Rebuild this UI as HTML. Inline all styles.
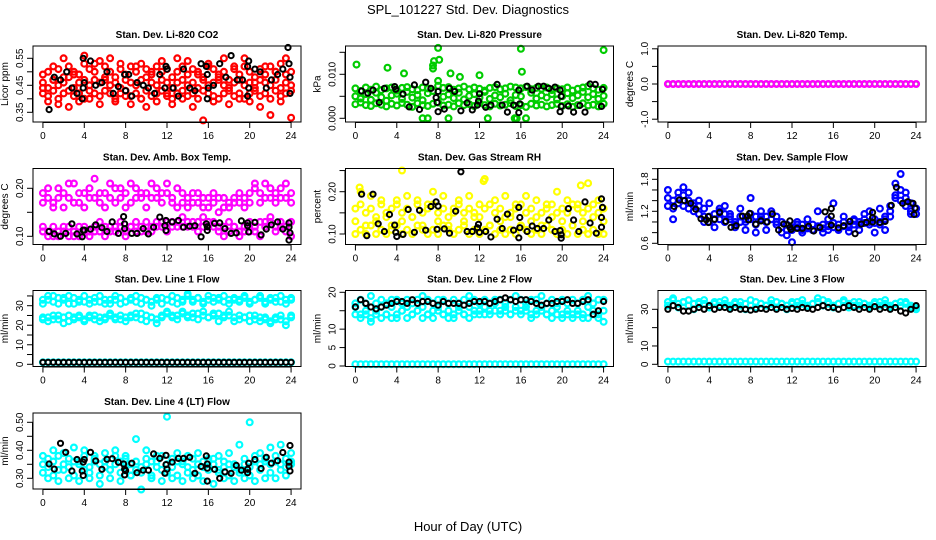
<!DOCTYPE html>
<html><head><meta charset="utf-8"><style>
html,body{margin:0;padding:0;background:#fff}
svg{display:block;font-family:"Liberation Sans",sans-serif}
</style></head><body>
<svg id="c" width="936" height="540" viewBox="0 0 936 540" xmlns="http://www.w3.org/2000/svg">
<text x="468" y="14" text-anchor="middle" font-size="13">SPL_101227  Std. Dev. Diagnostics</text>
<text x="468" y="531" text-anchor="middle" font-size="13">Hour of Day (UTC)</text>
</svg>
<script>
// half-hour grid of hours for the coloured clouds
const hoursGrid = []; for (let i = 0; i <= 48; i++) hoursGrid.push(i * 0.5);

const co2Red1 = [0.49,0.50,0.47,0.51,0.48,0.52,0.50,0.49,0.53,0.51,0.50,0.54,0.52,0.50,0.48,0.51,0.49,0.52,0.50,0.53,0.51,0.49,0.52,0.50,0.51,0.48,0.50,0.52,0.49,0.51,0.50,0.48,0.52,0.51,0.49,0.50,0.47,0.51,0.49,0.52,0.50,0.48,0.51,0.49,0.52,0.50,0.53,0.49,0.50];
const co2Red2 = [0.46,0.44,0.47,0.45,0.46,0.48,0.44,0.46,0.47,0.45,0.47,0.46,0.48,0.45,0.46,0.44,0.47,0.46,0.45,0.47,0.48,0.46,0.45,0.47,0.46,0.44,0.46,0.47,0.45,0.46,0.44,0.47,0.45,0.46,0.48,0.45,0.44,0.46,0.47,0.45,0.46,0.44,0.47,0.46,0.45,0.47,0.44,0.46,0.45];
const co2Red3 = [0.42,0.41,0.43,0.40,0.42,0.43,0.41,0.42,0.40,0.43,0.42,0.41,0.43,0.42,0.40,0.42,0.43,0.41,0.42,0.40,0.43,0.41,0.42,0.43,0.41,0.40,0.42,0.43,0.41,0.42,0.40,0.43,0.42,0.41,0.40,0.42,0.43,0.41,0.42,0.40,0.42,0.43,0.41,0.42,0.40,0.43,0.41,0.42,0.43];
const co2Red4 = [0.44,0.39,0.52,0.38,0.55,0.37,0.49,0.39,0.56,0.40,0.53,0.38,0.47,0.55,0.39,0.53,0.41,0.38,0.52,0.40,0.37,0.50,0.39,0.54,0.42,0.38,0.55,0.40,0.54,0.37,0.49,0.32,0.53,0.39,0.47,0.55,0.38,0.52,0.40,0.55,0.39,0.46,0.37,0.52,0.34,0.50,0.39,0.55,0.33];
const co2BlackHours = [0.6,1.1,1.7,2.3,2.8,3.3,3.8,3.9,3.9,4.0,4.6,5.1,5.7,6.2,6.8,7.3,7.9,8.0,8.3,8.6,9.1,9.7,10.2,10.8,11.3,11.8,11.9,12.0,12.6,13.1,13.6,14.2,14.7,15.3,15.8,15.9,15.9,16.0,16.5,17.1,17.7,18.2,18.8,19.3,19.8,19.8,19.9,19.9,20.5,21.0,21.6,22.1,22.7,23.2,23.7,23.8,23.9,23.9];
const co2BlackVals = [0.36,0.48,0.47,0.50,0.44,0.42,0.40,0.44,0.55,0.46,0.54,0.45,0.46,0.50,0.42,0.445,0.49,0.43,0.49,0.41,0.46,0.45,0.44,0.42,0.49,0.44,0.52,0.51,0.44,0.41,0.51,0.44,0.43,0.53,0.52,0.49,0.40,0.44,0.45,0.53,0.48,0.56,0.47,0.47,0.41,0.52,0.54,0.44,0.51,0.50,0.44,0.47,0.49,0.51,0.59,0.53,0.48,0.42];

const presGreen1 = [0.0068,0.0062,0.0070,0.0065,0.0072,0.0064,0.0068,0.0070,0.0063,0.0069,0.0071,0.0066,0.0064,0.0070,0.0068,0.0062,0.0074,0.0069,0.0071,0.0065,0.0068,0.0072,0.0066,0.0070,0.0067,0.0063,0.0069,0.0071,0.0066,0.0068,0.0072,0.0070,0.0068,0.0071,0.0066,0.0069,0.0067,0.0070,0.0064,0.0068,0.0066,0.0070,0.0063,0.0067,0.0070,0.0073,0.0068,0.0065,0.0069];
const presGreen2 = [0.0032,0.0036,0.0030,0.0028,0.0034,0.0031,0.0027,0.0033,0.0029,0.0035,0.0031,0.0026,0.0034,0.0030,0.0028,0.0033,0.0036,0.0029,0.0031,0.0027,0.0034,0.0030,0.0032,0.0028,0.0035,0.0030,0.0027,0.0033,0.0029,0.0031,0.0034,0.0028,0.0030,0.0026,0.0033,0.0029,0.0031,0.0027,0.0030,0.0033,0.0028,0.0032,0.0026,0.0030,0.0034,0.0029,0.0031,0.0027,0.0033];
const presGreen3 = [0.0050,0.0045,0.0055,0.0042,0.0058,0.0048,0.0040,0.0052,0.0056,0.0044,0.0060,0.0047,0.0053,0.0041,0.0057,0.0120,0.0085,0.0049,0.0054,0.0046,0.0058,0.0043,0.0051,0.0055,0.0047,0.0060,0.0044,0.0052,0.0048,0.0056,0.0041,0.0053,0.0050,0.0000,0.0058,0.0045,0.0052,0.0047,0.0055,0.0043,0.0050,0.0057,0.0046,0.0052,0.0060,0.0048,0.0055,0.0044,0.0051];
const presOutHours = [0.1,3.1,4.7,7.5,7.6,8.0,8.1,9.2,6.5,7.0,9.0,12.8,15.4,15.6,16.0,16.1,24.0,12.0,10.1];
const presOutVals = [0.0122,0.0115,0.0102,0.0113,0.0130,0.0160,0.0133,0.0102,0,0,0,0,0,0,0.0158,0.0106,0.0155,0.0098,0.0094];
const presBlackHours = [0.6,1.2,1.7,2.3,2.8,3.8,3.9,4.6,5.2,5.7,6.2,6.8,7.3,7.8,7.9,8.0,8.0,8.6,9.1,9.6,10.2,10.8,11.3,11.8,11.9,12.0,12.6,13.1,13.7,14.2,14.7,15.3,15.8,15.9,15.8,16.6,17.1,17.7,18.2,18.7,19.3,19.8,19.8,19.9,19.9,20.6,21.1,21.7,22.2,22.7,23.2,23.8,23.9];
const presBlackVals = [0.0062,0.0057,0.0064,0.0036,0.0068,0.0072,0.0066,0.0055,0.0026,0.0076,0.0020,0.0082,0.0068,0.0047,0.0036,0.0061,0.0015,0.0021,0.0068,0.0061,0.0017,0.0035,0.0019,0.0030,0.0039,0.0056,0.0025,0.0030,0.0077,0.0030,0.0014,0.0030,0.0064,0.0033,0.0013,0.0073,0.0064,0.0073,0.0073,0.0068,0.0071,0.0064,0.0015,0.0050,0.0027,0.0028,0.0014,0.0029,0.0014,0.0078,0.0077,0.0027,0.0066];

const tempMagenta = [0,0,0,0,0,0,0,0,0,0,0,0,0,0,0,0,0,0,0,0,0,0,0,0,0,0,0,0,0,0,0,0,0,0,0,0,0,0,0,0,0,0,0,0,0,0,0,0,0];
const tempBlack = [0,0,0,0,0,0,0,0,0,0,0,0,0,0,0,0,0,0,0,0,0,0,0,0,0,0,0,0,0,0,0,0,0,0,0,0,0,0,0,0,0,0,0,0,0,0,0,0,0];

const ambMag1 = [0.19,0.18,0.17,0.20,0.19,0.18,0.21,0.17,0.19,0.20,0.18,0.17,0.19,0.21,0.20,0.18,0.19,0.17,0.20,0.18,0.19,0.21,0.18,0.17,0.19,0.18,0.20,0.17,0.18,0.19,0.17,0.18,0.16,0.17,0.18,0.16,0.17,0.18,0.17,0.16,0.19,0.20,0.19,0.21,0.18,0.19,0.20,0.18,0.19];
const ambMag2 = [0.17,0.20,0.16,0.18,0.16,0.21,0.17,0.19,0.16,0.18,0.22,0.19,0.16,0.18,0.17,0.20,0.16,0.21,0.18,0.19,0.16,0.18,0.20,0.19,0.21,0.17,0.16,0.19,0.16,0.17,0.19,0.16,0.18,0.19,0.15,0.18,0.16,0.17,0.19,0.18,0.17,0.21,0.17,0.18,0.20,0.17,0.18,0.21,0.17];
const ambMag3 = [0.11,0.11,0.10,0.11,0.12,0.10,0.11,0.10,0.12,0.11,0.12,0.11,0.12,0.11,0.12,0.12,0.11,0.12,0.11,0.12,0.11,0.12,0.13,0.12,0.13,0.12,0.13,0.12,0.13,0.12,0.13,0.12,0.13,0.12,0.11,0.12,0.11,0.12,0.11,0.12,0.11,0.12,0.13,0.12,0.13,0.12,0.13,0.12,0.13];
const ambMag4 = [0.12,0.10,0.12,0.10,0.11,0.12,0.10,0.12,0.11,0.10,0.11,0.13,0.10,0.12,0.11,0.13,0.10,0.12,0.13,0.11,0.13,0.11,0.12,0.13,0.11,0.13,0.12,0.14,0.12,0.13,0.11,0.14,0.12,0.13,0.12,0.10,0.13,0.12,0.10,0.11,0.13,0.11,0.10,0.13,0.14,0.11,0.12,0.11,0.10];
const ambBlackHours = [0.6,1.1,1.7,2.2,2.8,3.3,3.8,3.9,4.0,4.6,5.1,5.7,6.2,6.7,7.3,7.8,7.9,7.9,8.6,9.1,9.7,10.2,10.7,11.3,11.8,11.9,11.9,12.5,13.1,13.6,14.2,14.7,15.3,15.8,15.9,15.9,16.6,17.1,17.6,18.2,18.7,19.2,19.8,19.8,19.9,20.5,21.1,21.6,22.1,22.7,23.2,23.8,23.8,23.9,23.8];
const ambBlackVals = [0.110,0.105,0.100,0.106,0.126,0.105,0.099,0.113,0.113,0.115,0.124,0.118,0.110,0.130,0.106,0.141,0.126,0.116,0.106,0.106,0.116,0.105,0.119,0.140,0.122,0.133,0.112,0.130,0.133,0.119,0.121,0.122,0.099,0.126,0.112,0.120,0.127,0.128,0.116,0.106,0.107,0.132,0.128,0.122,0.109,0.129,0.103,0.115,0.124,0.130,0.115,0.128,0.119,0.107,0.092];

const rhYel1 = [0.10,0.11,0.10,0.12,0.10,0.11,0.10,0.11,0.12,0.10,0.11,0.10,0.12,0.11,0.10,0.11,0.10,0.12,0.11,0.10,0.11,0.12,0.10,0.11,0.10,0.11,0.12,0.10,0.11,0.10,0.11,0.10,0.12,0.11,0.10,0.11,0.10,0.12,0.11,0.10,0.11,0.10,0.12,0.10,0.11,0.10,0.11,0.10,0.10];
const rhYel2 = [0.16,0.17,0.15,0.16,0.14,0.17,0.15,0.16,0.17,0.15,0.16,0.14,0.17,0.15,0.16,0.17,0.15,0.16,0.14,0.16,0.17,0.15,0.16,0.15,0.14,0.16,0.17,0.15,0.16,0.14,0.15,0.16,0.17,0.15,0.16,0.14,0.15,0.16,0.17,0.15,0.16,0.15,0.17,0.16,0.15,0.16,0.17,0.15,0.16];
const rhYel3 = [0.13,0.20,0.12,0.19,0.13,0.18,0.14,0.12,0.18,0.13,0.19,0.14,0.18,0.12,0.17,0.20,0.13,0.19,0.12,0.15,0.18,0.13,0.19,0.14,0.17,0.23,0.12,0.18,0.13,0.19,0.14,0.17,0.12,0.19,0.13,0.18,0.12,0.17,0.14,0.20,0.13,0.18,0.12,0.17,0.13,0.22,0.14,0.18,0.13];
const rhOutHours = [4.5,12.4,21.8,0.4];
const rhOutVals = [0.25,0.225,0.215,0.21];
const rhBlackHours = [0.6,1.1,1.7,2.2,2.8,3.3,3.8,3.9,4.0,4.6,5.1,5.7,6.2,6.8,7.3,7.8,7.9,8.0,8.6,9.1,9.7,10.2,10.8,11.3,11.8,11.9,12.0,12.6,13.1,13.7,14.2,14.7,15.3,15.8,15.9,15.9,15.8,16.6,17.1,17.6,18.2,18.7,19.3,19.8,19.9,19.9,20.6,21.1,21.6,22.2,22.7,23.3,23.8,23.8,23.9,23.8];
const rhBlackVals = [0.194,0.096,0.194,0.124,0.106,0.146,0.121,0.104,0.094,0.099,0.158,0.104,0.156,0.109,0.165,0.176,0.111,0.166,0.112,0.102,0.154,0.247,0.106,0.106,0.115,0.123,0.104,0.106,0.093,0.135,0.113,0.147,0.109,0.163,0.139,0.115,0.091,0.106,0.119,0.113,0.113,0.133,0.106,0.108,0.098,0.090,0.160,0.133,0.106,0.176,0.126,0.102,0.139,0.183,0.163,0.116];

const flowBlue1 = [1.45,1.40,1.35,1.50,1.40,1.35,1.30,1.25,1.10,1.05,1.20,1.15,1.05,1.00,1.10,1.05,1.15,1.10,1.05,1.10,1.15,1.10,1.00,0.95,0.90,0.95,0.95,0.90,0.95,0.90,0.95,0.92,0.98,0.95,1.00,0.95,1.02,1.00,1.05,1.00,1.05,1.00,1.10,1.20,1.45,1.60,1.45,1.35,1.25];
const flowBlue2 = [1.30,1.25,1.45,1.30,1.25,1.30,1.15,1.10,1.00,1.15,1.05,1.00,1.10,0.95,1.00,1.00,1.05,0.95,1.10,1.00,1.05,1.00,0.90,0.85,0.85,0.90,0.85,0.88,0.85,0.92,0.88,0.85,0.90,0.88,0.92,0.90,0.95,0.95,0.98,0.95,0.98,0.95,1.05,1.10,1.50,1.40,1.30,1.20,1.15];
const flowBlue3 = [1.60,1.05,1.55,1.65,1.55,1.20,1.40,1.00,1.35,0.90,1.25,1.30,1.15,0.90,1.25,0.85,1.45,0.80,1.20,0.85,1.20,0.95,0.80,0.75,0.62,1.00,0.80,1.05,0.85,1.20,0.80,1.05,1.35,0.85,1.10,0.82,1.05,0.85,1.15,1.20,0.80,1.25,0.85,1.30,1.72,1.90,1.55,1.15,1.25];
const flowBlackHours = [0.6,1.1,1.6,2.2,2.7,3.2,3.7,3.9,3.9,4.5,5.0,5.6,6.1,6.6,7.2,7.7,7.8,7.9,8.5,9.0,9.6,10.1,10.7,11.2,11.8,11.8,11.9,12.5,13.0,13.6,14.1,14.7,15.2,15.8,15.8,15.8,16.5,17.0,17.6,18.1,18.7,19.2,19.8,19.8,19.8,20.5,21.0,21.6,22.1,22.7,23.2,23.7,23.8,23.9];
const flowBlackVals = [1.29,1.41,1.40,1.35,1.24,1.06,1.04,1.10,0.99,1.05,1.18,1.01,0.90,0.93,1.11,1.11,1.04,1.16,0.96,1.02,1.00,1.15,0.85,0.96,1.02,0.90,0.86,0.88,0.88,0.92,0.83,0.90,1.19,1.25,1.11,0.94,0.89,0.93,1.01,0.78,0.96,0.99,1.18,1.08,1.00,0.99,1.01,1.31,1.65,1.35,1.38,1.35,1.14,1.26];

const line1Cyan1 = [33,35,32,34,33,31,34,33,32,33,34,32,33,31,33,34,32,33,32,34,33,32,33,34,33,32,34,33,35,33,34,32,33,34,33,32,33,34,33,35,32,33,34,32,33,34,32,33,34];
const line1Cyan2 = [31,33,35,31,34,35,31,32,35,31,32,35,31,33,35,31,32,34,35,31,33,30,34,31,33,35,31,32,36,32,34,31,35,32,34,35,31,33,32,34,31,33,35,31,34,32,35,31,33];
const line1Cyan3 = [23,24,23,25,24,22,24,25,23,24,25,24,23,25,24,23,24,25,24,26,25,24,23,25,26,24,25,26,25,24,26,25,24,25,26,24,25,24,23,24,25,23,24,23,22,24,23,22,24];
const line1Cyan4 = [24,22,25,23,21,25,23,24,22,25,23,22,24,26,23,25,22,24,26,23,22,24,21,24,27,25,23,27,24,26,23,27,24,26,22,25,27,22,25,24,22,25,22,24,21,23,25,20,25];
const line1Cyan5 = [1,1,1,1,1,1,1,1,1,1,1,1,1,1,1,1,1,1,1,1,1,1,1,1,1,1,1,1,1,1,1,1,1,1,1,1,1,1,1,1,1,1,1,1,1,1,1,1,1];
const line1Black = [1,1,1,1,1,1,1,1,1,1,1,1,1,1,1,1,1,1,1,1,1,1,1,1,1,1,1,1,1,1,1,1,1,1,1,1,1,1,1,1,1,1,1,1,1,1,1,1,1];

const line2Cyan1 = [17,18,17,19,17,18,17,18,18,17,18,17,18,19,18,17,18,18,17,18,17,18,19,18,17,18,17,18,18,17,18,19,18,17,18,18,19,17,18,17,18,17,18,17,18,19,17,18,18];
const line2Cyan2 = [14,13,14,12,14,13,14,13,14,15,13,14,15,13,14,13,15,14,13,14,15,14,13,14,15,14,14,15,14,15,14,15,14,15,13,14,15,14,13,14,13,14,13,14,13,13,14,13,12];
const line2Cyan3 = [16,14,15,13,15,16,14,16,13,15,16,14,15,16,14,15,16,14,15,13,16,14,16,15,14,16,15,17,15,16,14,16,15,16,14,15,16,14,15,16,14,15,14,15,14,16,15,14,15];
const line2Cyan4 = [0.5,0.5,0.5,0.5,0.5,0.5,0.5,0.5,0.5,0.5,0.5,0.5,0.5,0.5,0.5,0.5,0.5,0.5,0.5,0.5,0.5,0.5,0.5,0.5,0.5,0.5,0.5,0.5,0.5,0.5,0.5,0.5,0.5,0.5,0.5,0.5,0.5,0.5,0.5,0.5,0.5,0.5,0.5,0.5,0.5,0.5,0.5,0.5,0.5];
const line2Black = [16,18,17,16,15.5,16,16.5,17,17.5,17.5,17,18,17,17.5,17.5,17,16.5,17.5,17,17,17,16.5,17,17.5,17.5,17.5,17,17.5,18,18.5,18,17.5,18,18,17.5,17,16.5,17,17,17.5,17.5,18,17,17,17.5,18,14,15,17.5];

const line3Cyan1 = [34,35,33,34,32,33,34,33,32,33,34,33,32,33,34,33,32,34,33,32,33,34,33,32,33,34,33,32,33,34,35,33,32,33,34,33,32,34,33,32,33,34,33,32,33,34,33,32,31];
const line3Cyan2 = [32,36,31,34,35,30,33,35,31,34,32,35,31,34,32,30,35,31,33,32,35,31,33,30,34,32,35,31,33,36,32,34,31,33,35,31,34,32,33,31,34,32,35,31,33,32,34,31,30];
const line3Cyan3 = [1.5,1.5,1.5,1.5,1.5,1.5,1.5,1.5,1.5,1.5,1.5,1.5,1.5,1.5,1.5,1.5,1.5,1.5,1.5,1.5,1.5,1.5,1.5,1.5,1.5,1.5,1.5,1.5,1.5,1.5,1.5,1.5,1.5,1.5,1.5,1.5,1.5,1.5,1.5,1.5,1.5,1.5,1.5,1.5,1.5,1.5,1.5,1.5,1.5];
const line3Black = [30,32,31,29,29,30,31,30,32,30,31,31,30,31,30,30,29.5,30,30.5,30,31,30,31,30,30.5,30,31,30.5,30,31,32,31,31,30,31,32,31,30,31,30,31.5,30,31,30,31,29,28,30,32];

const line4Cyan1 = [0.35,0.34,0.36,0.33,0.35,0.34,0.36,0.35,0.33,0.34,0.36,0.35,0.34,0.33,0.35,0.36,0.34,0.35,0.33,0.34,0.35,0.36,0.34,0.33,0.35,0.34,0.36,0.35,0.34,0.33,0.35,0.34,0.36,0.35,0.33,0.34,0.35,0.34,0.33,0.35,0.34,0.36,0.35,0.36,0.35,0.36,0.35,0.34,0.36];
const line4Cyan2 = [0.32,0.37,0.31,0.38,0.33,0.37,0.31,0.36,0.38,0.32,0.37,0.31,0.36,0.33,0.38,0.32,0.37,0.31,0.36,0.32,0.37,0.31,0.36,0.38,0.32,0.37,0.31,0.36,0.32,0.37,0.31,0.36,0.33,0.37,0.32,0.36,0.31,0.35,0.32,0.37,0.31,0.38,0.33,0.37,0.32,0.38,0.33,0.37,0.35];
const line4Cyan3 = [0.38,0.30,0.40,0.29,0.39,0.30,0.41,0.29,0.40,0.30,0.38,0.28,0.39,0.30,0.40,0.29,0.38,0.31,0.44,0.26,0.40,0.30,0.38,0.29,0.52,0.30,0.39,0.29,0.38,0.30,0.39,0.29,0.37,0.28,0.38,0.30,0.39,0.29,0.42,0.30,0.50,0.29,0.39,0.30,0.41,0.30,0.42,0.31,0.39];
const line4BlackHours = [0.6,1.1,1.7,2.2,2.8,3.3,3.8,3.9,3.9,4.0,4.6,5.1,5.7,6.2,6.7,7.3,7.8,7.9,7.9,8.0,8.6,9.1,9.7,10.2,10.7,11.3,11.8,11.9,11.9,12.0,12.5,13.1,13.6,14.2,14.7,15.3,15.8,15.9,15.9,15.9,16.6,17.1,17.6,18.2,18.7,19.2,19.8,19.8,19.9,20.5,21.1,21.6,22.1,22.7,23.2,23.8,23.8,23.9,23.9];
const line4BlackVals = [0.351,0.333,0.425,0.393,0.326,0.367,0.326,0.310,0.358,0.367,0.393,0.362,0.332,0.368,0.370,0.357,0.351,0.333,0.312,0.327,0.354,0.320,0.329,0.329,0.387,0.371,0.318,0.349,0.382,0.333,0.358,0.371,0.371,0.375,0.318,0.342,0.380,0.351,0.336,0.290,0.332,0.300,0.323,0.318,0.346,0.329,0.320,0.332,0.354,0.367,0.335,0.375,0.354,0.363,0.392,0.358,0.343,0.326,0.417];

const xTicks = [0,4,8,12,16,20,24];
const RED='#ff0000',GRN='#00cc00',MAG='#ff00ff',YEL='#ffff00',BLU='#0000ff',CYN='#00ffff',BLK='#000000';

const NS='http://www.w3.org/2000/svg';
const svg=document.getElementById('c');
function mk(tag,attrs,parent){const e=document.createElementNS(NS,tag);for(const k in attrs)e.setAttribute(k,attrs[k]);(parent||svg).appendChild(e);return e;}

const panels = [
 {key:'co2',col:0,row:0,title:'Stan. Dev. Li-820 CO2',ylab:'Licor ppm',a:[0.55,58.3],b:[0.35,112.3],ticks:[0.35,0.40,0.45,0.50,0.55],labels:['0.35','','0.45','','0.55'],
  series:[[hoursGrid,co2Red1,RED],[hoursGrid,co2Red2,RED],[hoursGrid,co2Red3,RED],[hoursGrid,co2Red4,RED],[co2BlackHours,co2BlackVals,BLK]]},
 {key:'pressure',col:1,row:0,title:'Stan. Dev. Li-820 Pressure',ylab:'kPa',a:[0.010,74.3],b:[0,118.3],ticks:[0,0.005,0.010,0.015],labels:['0.000','','0.010',''],
  series:[[hoursGrid,presGreen1,GRN],[hoursGrid,presGreen2,GRN],[hoursGrid,presGreen3,GRN],[presOutHours,presOutVals,GRN],[presBlackHours,presBlackVals,BLK]]},
 {key:'li820-temp',col:2,row:0,title:'Stan. Dev. Li-820 Temp.',ylab:'degrees C',a:[1,48.8],b:[-1,119.2],ticks:[-1,-0.5,0,0.5,1],labels:['-1.0','','0.0','','1.0'],
  series:[[hoursGrid,tempBlack,BLK],[hoursGrid,tempMagenta,MAG]]},
 {key:'amb-box-temp',col:0,row:1,title:'Stan. Dev. Amb. Box Temp.',ylab:'degrees C',a:[0.20,188.3],b:[0.10,236.3],ticks:[0.10,0.15,0.20],labels:['0.10','','0.20'],
  series:[[hoursGrid,ambMag1,MAG],[hoursGrid,ambMag2,MAG],[hoursGrid,ambMag3,MAG],[hoursGrid,ambMag4,MAG],[ambBlackHours,ambBlackVals,BLK]]},
 {key:'gas-stream-rh',col:1,row:1,title:'Stan. Dev. Gas Stream RH',ylab:'percent',a:[0.20,191.7],b:[0.10,234],ticks:[0.10,0.15,0.20,0.25],labels:['0.10','','0.20',''],
  series:[[hoursGrid,rhYel1,YEL],[hoursGrid,rhYel2,YEL],[hoursGrid,rhYel3,YEL],[rhOutHours,rhOutVals,YEL],[rhBlackHours,rhBlackVals,BLK]]},
 {key:'sample-flow',col:2,row:1,title:'Stan. Dev. Sample Flow',ylab:'ml/min',a:[1.8,179.3],b:[0.6,243.3],ticks:[0.6,0.8,1.0,1.2,1.4,1.6,1.8,2.0],labels:['0.6','','','1.2','','','1.8',''],
  series:[[hoursGrid,flowBlue1,BLU],[hoursGrid,flowBlue2,BLU],[hoursGrid,flowBlue3,BLU],[flowBlackHours,flowBlackVals,BLK]]},
 {key:'line1-flow',col:0,row:2,title:'Stan. Dev. Line 1 Flow',ylab:'ml/min',a:[30,305.7],b:[0,364.3],ticks:[0,5,10,15,20,25,30,35],labels:['0','','10','','20','','30',''],
  series:[[hoursGrid,line1Cyan1,CYN],[hoursGrid,line1Cyan2,CYN],[hoursGrid,line1Cyan3,CYN],[hoursGrid,line1Cyan4,CYN],[hoursGrid,line1Cyan5,CYN],[hoursGrid,line1Black,BLK]]},
 {key:'line2-flow',col:1,row:2,title:'Stan. Dev. Line 2 Flow',ylab:'ml/min',a:[20,292.3],b:[0,366],ticks:[0,5,10,15,20],labels:['0','5','10','','20'],
  series:[[hoursGrid,line2Cyan1,CYN],[hoursGrid,line2Cyan2,CYN],[hoursGrid,line2Cyan3,CYN],[hoursGrid,line2Cyan4,CYN],[hoursGrid,line2Black,BLK]]},
 {key:'line3-flow',col:2,row:2,title:'Stan. Dev. Line 3 Flow',ylab:'ml/min',a:[30,309.3],b:[0,364.3],ticks:[0,10,20,30],labels:['0','10','','30'],
  series:[[hoursGrid,line3Cyan1,CYN],[hoursGrid,line3Cyan2,CYN],[hoursGrid,line3Cyan3,CYN],[hoursGrid,line3Black,BLK]]},
 {key:'line4-flow',col:0,row:3,title:'Stan. Dev. Line 4 (LT) Flow',ylab:'ml/min',a:[0.50,422.3],b:[0.30,478.3],ticks:[0.30,0.35,0.40,0.45,0.50],labels:['0.30','','0.40','','0.50'],
  series:[[hoursGrid,line4Cyan1,CYN],[hoursGrid,line4Cyan2,CYN],[hoursGrid,line4Cyan3,CYN],[line4BlackHours,line4BlackVals,BLK]]}
];
const rowTops=[46,168.5,290.5,413];
const BW=268,BH=76;

panels.forEach(p=>{
  const L=33+p.col*312.5, T=rowTops[p.row];
  const g=mk('g',{});
  
  
  const xs=h=>L+BW*(h+0.96)/25.92;
  const ys=v=>p.a[1]+(v-p.a[0])*(p.b[1]-p.a[1])/(p.b[0]-p.a[0]);
  const pg=mk('g',{fill:'none'},g);
  
  
  p.series.forEach(s=>{
    const [hs,vs,col]=s;
    const isBlack = col===BLK;
    for(let i=0;i<vs.length;i++){
      const c=mk('circle',{cx:xs(hs[i]).toFixed(1),cy:ys(vs[i]).toFixed(1),r:isBlack?2.6:2.9,stroke:col,'stroke-width':isBlack?2:2.2},pg);
      
      
    }
  });
  const box=mk('rect',{x:L,y:T,width:BW,height:BH,fill:'none',stroke:'#000','stroke-width':1},g);
  
  
  const t=mk('text',{x:L+BW/2,y:T-8,'text-anchor':'middle','font-size':10,'font-weight':'bold'},g);
  t.textContent=p.title;
  
  
  const B=T+BH;
  mk('line',{x1:xs(0),x2:xs(24),y1:B+0.5,y2:B+0.5,stroke:'#000'},g);
  xTicks.forEach(h=>{
    mk('line',{x1:xs(h),x2:xs(h),y1:B,y2:B+6,stroke:'#000'},g);
    const tx=mk('text',{x:xs(h),y:B+17,'text-anchor':'middle','font-size':10},g);
    tx.textContent=String(h);
    
    
  });
  const ty0=ys(p.ticks[0]), ty1=ys(p.ticks[p.ticks.length-1]);
  mk('line',{x1:L-0.5,x2:L-0.5,y1:ty0,y2:ty1,stroke:'#000'},g);
  p.ticks.forEach((v,i)=>{
    const y=ys(v);
    mk('line',{x1:L-6,x2:L,y1:y,y2:y,stroke:'#000'},g);
    if(p.labels[i]){
      const ty=mk('text',{x:L-10,y:y,'text-anchor':'middle','font-size':10,transform:'rotate(-90 '+(L-10)+' '+y+')'},g);
      ty.textContent=p.labels[i];
      
      
    }
  });
  const yl=mk('text',{x:L-25,y:T+BH/2,'text-anchor':'middle','font-size':10,transform:'rotate(-90 '+(L-25)+' '+(T+BH/2)+')'},g);
  yl.textContent=p.ylab;
  
  
});
</script>
</body></html>
